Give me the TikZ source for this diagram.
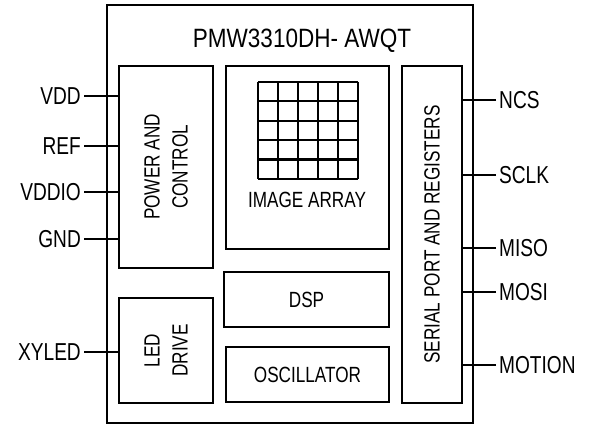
\documentclass[tikz,border=0pt]{standalone}
\usepackage{fontspec}
\setmainfont{Liberation Sans}[FakeStretch=0.78]
\newfontfamily\titlefont{Liberation Sans}[FakeStretch=0.85]

\begin{document}
\begin{tikzpicture}[x=1pt, y=-1pt,
        block/.style={draw, line width=2.2pt, inner sep=0pt},
        blocktext/.style={font=\fontsize{22}{28}\selectfont, align=center, inner sep=0pt},
        pinlabel/.style={font=\fontsize{24.5}{28}\selectfont, inner xsep=3pt, inner ysep=0pt},
        wire/.style={line width=2.2pt}]

    \useasboundingbox (0,0) rectangle (589,425);

    % Chip outline and title
    \node[block, minimum width=366pt, minimum height=418pt] (chip) at (290,214) {};
    \node[font=\titlefont\fontsize{26.5}{32}\selectfont, inner sep=0pt, anchor=base] (title) at (302,48) {PMW3310DH- AWQT};

    % Function blocks
    \node[block, minimum width=94pt, minimum height=202pt] (pwr) at (166,167) {};
    \node[block, minimum width=163pt, minimum height=183pt] (img) at (307.5,157.5) {};
    \node[block, minimum width=60pt, minimum height=337pt] (ser) at (432,234.5) {};
    \node[block, minimum width=165pt, minimum height=55pt] (dsp) at (306.5,299.5) {};
    \node[block, minimum width=163pt, minimum height=55pt] (osc) at (307.5,374.5) {};
    \node[block, minimum width=94pt, minimum height=105pt] (led) at (166,350.5) {};

    % Block labels
    \node[blocktext, rotate=90] (pwrtext) at (pwr) {POWER AND\\CONTROL};
    \node[blocktext, rotate=90] (ledtext) at (led) {LED\\DRIVE};
    \node[blocktext, rotate=90] (sertext) at (ser) {SERIAL PORT AND REGISTERS};
    \node[blocktext] (dsptext) at (dsp) {DSP};
    \node[blocktext] (osctext) at (osc) {OSCILLATOR};
    \node[blocktext] (imgtext) at (307,199.5) {IMAGE ARRAY};

    % Pixel grid
    \foreach \i in {0,...,5}
        \draw[wire] (258+20*\i,82) -- (258+20*\i,179);
    \foreach \j in {0,...,5}
        \draw[wire] (258,82+19.4*\j) -- (358,82+19.4*\j);

    % Left pins
    \foreach \name/\y/\blk in {VDD/96/pwr, REF/146/pwr, VDDIO/192/pwr, GND/239/pwr, XYLED/352/led}{
        \node[pinlabel, anchor=east] (pin\name) at (84,\y) {\name};
        \draw[wire] (pin\name.east) -- (pin\name.east -| \blk.west);
    }

    % Right pins
    \foreach \name/\y in {NCS/100, SCLK/175, MISO/248, MOSI/292, MOTION/365}{
        \node[pinlabel, anchor=west] (pin\name) at (496,\y) {\name};
        \draw[wire] (pin\name.west) -- (pin\name.west -| ser.east);
    }

\end{tikzpicture}
\end{document}
